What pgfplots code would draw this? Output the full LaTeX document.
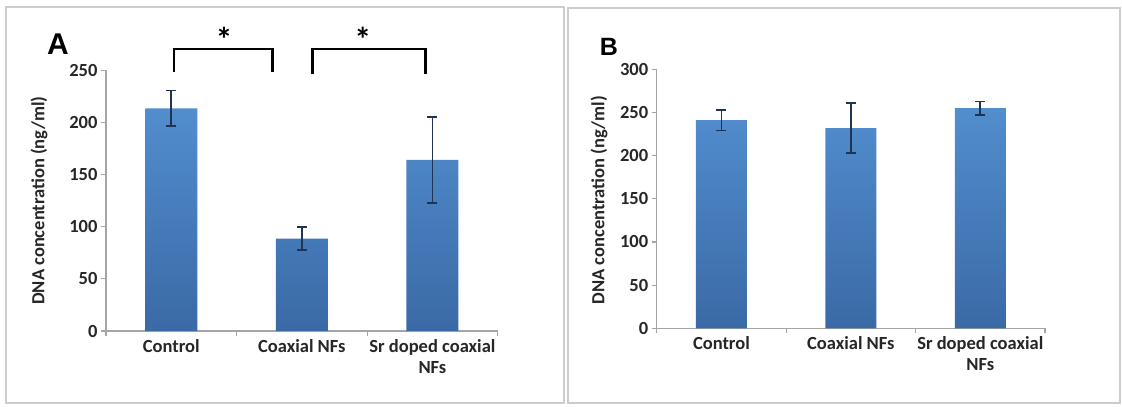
\documentclass[border=0pt]{standalone}
\usepackage{fontspec}
\setmainfont{Carlito}
\newfontfamily\panelfont{Liberation Sans}
\usepackage{pgfplots}
\usepackage{pgfplotstable}
\pgfplotsset{compat=1.18}

\definecolor{barTop}{RGB}{82,141,206}
\definecolor{barBot}{RGB}{58,106,166}
\definecolor{errc}{RGB}{32,52,82}
\definecolor{axgray}{RGB}{165,165,165}
\definecolor{framegray}{RGB}{205,205,205}

% mean DNA concentration and error (ng/ml)
\pgfplotstableread{
x y err
0 213.5 17.2
1 88.5 11.0
2 164.0 41.5
}\dataA
\pgfplotstableread{
x y err
0 241.0 12.0
1 232.0 28.6
2 255.0 7.7
}\dataB

\pgfplotsset{
  panel/.style={
    scale only axis,
    anchor=south west,
    clip=false,
    axis x line*=bottom,
    axis y line*=left,
    axis line style={axgray, line width=1.5pt},
    xmin=-0.5, xmax=2.5, ymin=0,
    xtick={0,1,2},
    xticklabels={Control, Coaxial NFs, {Sr doped coaxial\\NFs}},
    minor xtick={-0.5,0.5,1.5,2.5},
    major x tick style={draw=none},
    minor x tick style={axgray, line width=1.2pt},
    ytick style={axgray, line width=1.2pt},
    tick align=outside,
    major tick length=5pt,
    minor tick length=5pt,
    /pgf/number format/assume math mode=true,
    tick label style={font=\bfseries\fontsize{18.5}{21}\selectfont, text=black!85},
    xticklabel style={align=center},
    ylabel={DNA concentration (ng/ml)},
    ylabel style={font=\bfseries\fontsize{18.5}{20}\selectfont, text=black!85, anchor=center},
  },
  bars/.style={
    ybar, draw=none,
    top color=barTop, bottom color=barBot,
    /pgfplots/error bars/y dir=both,
    /pgfplots/error bars/y explicit,
    /pgfplots/error bars/error bar style={errc, line width=1.7pt},
    /pgfplots/error bars/error mark options={errc, line width=1.7pt, rotate=90, mark size=5pt},
  },
}

\begin{document}
\begin{tikzpicture}
\useasboundingbox (0pt,0pt) rectangle (1122pt,407pt);
% panel frames
\draw[framegray, line width=2pt] (6pt,4pt) rectangle (564pt,400pt);
\draw[framegray, line width=1.5pt] (568pt,4pt) rectangle (1120pt,399pt);

% Panel A
\begin{axis}[panel,
  at={(106pt,76pt)}, width=391.7pt, height=260.7pt,
  ymax=250, ytick={0,50,...,250},
  ylabel style={at={(axis description cs:-0.171,0.5)}},
]
\addplot[bars, bar width=52pt] table[x=x, y=y, y error=err] {\dataA};
% significance brackets
\draw[black, line width=2.8pt] (axis cs:0.021,248.7) -- (axis cs:0.021,270.4) -- (axis cs:0.776,270.4) -- (axis cs:0.776,248.7);
\draw[black, line width=2.8pt] (axis cs:1.080,246.4) -- (axis cs:1.080,270.4) -- (axis cs:1.950,270.4) -- (axis cs:1.950,246.4);
\node[anchor=north, inner sep=0pt, font=\bfseries\fontsize{34}{34}\selectfont] at (axis cs:0.404,292) {*};
\node[anchor=north, inner sep=0pt, font=\bfseries\fontsize{34}{34}\selectfont] at (axis cs:1.468,292) {*};
\end{axis}

% Panel B
\begin{axis}[panel,
  at={(656.7pt,78.7pt)}, width=388.3pt, height=259pt,
  ymax=300, ytick={0,50,...,300},
  ylabel style={at={(axis description cs:-0.1486,0.495)}},
]
\addplot[bars, bar width=51pt] table[x=x, y=y, y error=err] {\dataB};
\end{axis}

% panel letters
\node[font=\panelfont\bfseries\fontsize{30}{30}\selectfont] at (58pt,363pt) {A};
\node[font=\panelfont\bfseries\fontsize{25}{25}\selectfont] at (609pt,360pt) {B};
\end{tikzpicture}
\end{document}
